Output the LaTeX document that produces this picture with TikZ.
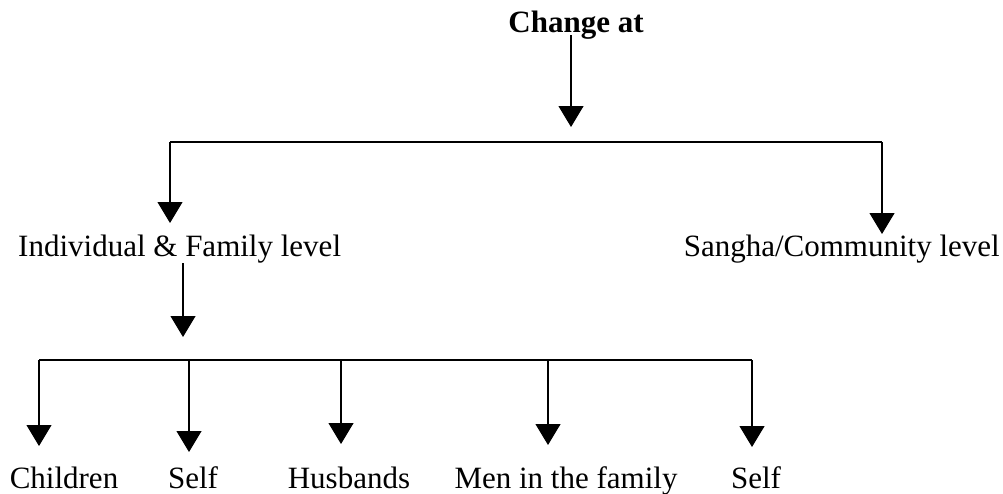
\documentclass[tikz,border=0pt]{standalone}
\usepackage{fontspec}
\setmainfont{Liberation Serif}
\usetikzlibrary{arrows.meta}
\tikzset{
  lbl/.style={inner sep=0pt, font=\fontsize{31}{36}\selectfont, anchor=base},
  conn/.style={line width=1.2pt, draw=black},
  arr/.style={conn, -{Triangle[width=25pt,length=21pt]}}
}
\begin{document}
\begin{tikzpicture}[x=1pt,y=-1pt]
\useasboundingbox (0,0) rectangle (1003,493);
% text nodes
\node[lbl, font=\fontsize{31}{36}\selectfont\bfseries] (change) at (576,32) {Change at};
\node[lbl, anchor=base west] (indiv) at (18,256) {Individual \& Family level};
\node[lbl, anchor=base east] (sangha) at (1000,256) {Sangha/Community level};
\node[lbl] (children) at (64,488) {Children};
\node[lbl] (self1) at (193,488) {Self};
\node[lbl] (husb) at (349,488) {Husbands};
\node[lbl] (men) at (566,488) {Men in the family};
\node[lbl] (self2) at (756,488) {Self};
% junction coordinates
\coordinate (t0) at (571,35);
\coordinate (t1) at (571,127);
\coordinate (aL) at (170,142);
\coordinate (aR) at (882,142);
\coordinate (aLt) at (170,223);
\coordinate (aRt) at (882,234);
\coordinate (m0) at (183,263);
\coordinate (m1) at (183,337);
\coordinate (b1) at (39,360);
\coordinate (b2) at (189,360);
\coordinate (b3) at (341,360);
\coordinate (b4) at (548,360);
\coordinate (b5) at (752,360);
\coordinate (c1) at (39,446);
\coordinate (c2) at (189,452);
\coordinate (c3) at (341,444);
\coordinate (c4) at (548,445);
\coordinate (c5) at (752,447);
% connectors
\draw[arr] (t0) -- (t1);
\draw[conn] (aL) -- (aR);
\draw[arr] (aL) -- (aLt);
\draw[arr] (aR) -- (aRt);
\draw[arr] (m0) -- (m1);
\draw[conn] (b1) -- (b5);
\draw[arr] (b1) -- (c1);
\draw[arr] (b2) -- (c2);
\draw[arr] (b3) -- (c3);
\draw[arr] (b4) -- (c4);
\draw[arr] (b5) -- (c5);
\end{tikzpicture}
\end{document}
